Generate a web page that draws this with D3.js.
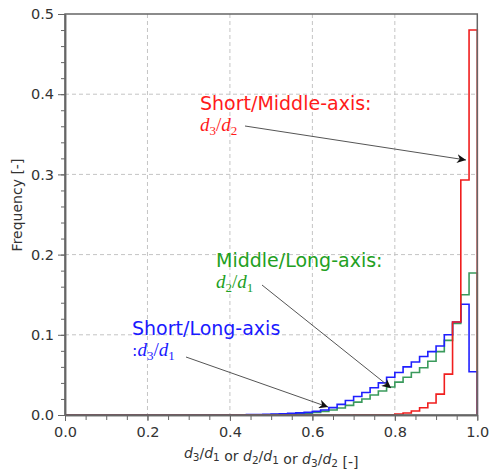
<!DOCTYPE html>
<html><head><meta charset="utf-8">
<script src="https://cdn.jsdelivr.net/npm/d3@7"></script>
<style>body{margin:0;background:#fff}</style>
</head><body>
<svg id="chart" width="489" height="470"></svg>
<script>
// ---- data ----
const binWidth = 0.02;
const binStarts = d3.range(50).map(i => +(i * binWidth).toFixed(2));
const shortLong = [ // d3/d1 (blue)
  0,0,0,0,0,0,0,0,0,0, 0,0,0,0,0,0.0002,0.0002,0.0002,0.0002,0.0002,
  0.0003,0.0004,0.0005,0.0007,0.0009,0.0012,0.0016,0.002,0.0026,0.0033,
  0.0045,0.0062,0.0092,0.0132,0.018,0.023,0.028,0.034,0.040,0.047,
  0.053,0.060,0.066,0.073,0.079,0.086,0.100,0.116,0.138,0.054];
const middleLong = [ // d2/d1 (green)
  0,0,0,0,0,0,0,0,0,0, 0,0,0,0,0,0,0,0,0,0,
  0.0002,0.0002,0.0002,0.0002,0.0002,0.0005,0.0008,0.0012,0.0017,0.0024,
  0.0033,0.0045,0.0063,0.0088,0.012,0.016,0.020,0.025,0.030,0.035,
  0.041,0.047,0.053,0.059,0.067,0.079,0.093,0.114,0.150,0.177];
const shortMiddle = [ // d3/d2 (red)
  0,0,0,0,0,0,0,0,0,0, 0,0,0,0,0,0,0,0,0,0,
  0,0,0,0,0,0,0,0,0,0, 0,0,0,0,0,0.0003,0.0003,0.0003,0.0003,0.0003,
  0.0012,0.0025,0.005,0.009,0.015,0.026,0.051,0.116,0.293,0.480];
const xTickValues = [0, 0.2, 0.4, 0.6, 0.8, 1.0];
const yTickValues = [0, 0.1, 0.2, 0.3, 0.4, 0.5];

// ---- layout ----
const L = 65, R = 477.3, T = 14, B = 415;
const svg = d3.select("#chart");
const x = d3.scaleLinear().domain([0, 1]).range([L, R]);
const y = d3.scaleLinear().domain([0, 0.5]).range([B, T]);
const font = "DejaVu Sans";

// grid
const grid = svg.append("g").attr("stroke", "#c4c4c4").attr("stroke-width", 1).attr("stroke-dasharray", "4,3");
xTickValues.slice(1, -1).forEach(v => grid.append("line").attr("x1", x(v)).attr("x2", x(v)).attr("y1", T).attr("y2", B));
yTickValues.slice(1, -1).forEach(v => grid.append("line").attr("y1", y(v)).attr("y2", y(v)).attr("x1", L).attr("x2", R));

// histograms
function stepPoints(vals) {
  const pts = [[0, 0]];
  vals.forEach((v, i) => pts.push([binStarts[i], v]));
  pts.push([1, vals[vals.length - 1]]);
  pts.push([1, 0]);
  return pts;
}
const line = d3.line().x(d => x(d[0])).y(d => y(d[1])).curve(d3.curveStepAfter);
[[middleLong, "#3a9a5c"], [shortLong, "#1f1fff"], [shortMiddle, "#f01e1e"]].forEach(([vals, c]) => {
  svg.append("path").attr("d", line(stepPoints(vals))).attr("fill", "none")
    .attr("stroke", c).attr("stroke-width", 1.6).attr("stroke-linejoin", "miter");
});

// frame
svg.append("rect").attr("x", L).attr("y", T).attr("width", R - L).attr("height", B - T)
  .attr("fill", "none").attr("stroke", "#666").attr("stroke-width", 1.5);

// axes
const xAxis = svg.append("g").attr("transform", `translate(0,${B})`)
  .call(d3.axisBottom(x).tickValues(xTickValues).tickFormat(d3.format(".1f")).tickSize(6).tickSizeOuter(0).tickPadding(6));
const xMinor = svg.append("g").attr("transform", `translate(0,${B})`)
  .call(d3.axisBottom(x).tickValues(d3.range(0, 1.0001, 0.05)).tickFormat("").tickSize(5).tickSizeOuter(0));
const yAxis = svg.append("g").attr("transform", `translate(${L},0)`)
  .call(d3.axisLeft(y).tickValues(yTickValues).tickFormat(d3.format(".1f")).tickSize(7).tickSizeOuter(0).tickPadding(4));
const yMinor = svg.append("g").attr("transform", `translate(${L},0)`)
  .call(d3.axisLeft(y).tickValues(d3.range(0, 0.5001, 0.02)).tickFormat("").tickSize(4).tickSizeOuter(0));
[xAxis, xMinor, yAxis, yMinor].forEach(g => {
  g.select(".domain").attr("stroke", "#666").attr("stroke-width", 1.5);
  g.selectAll(".tick line").attr("stroke", "#666").attr("stroke-width", 1);
  g.selectAll("text").attr("font-family", font).attr("font-size", 14.5).attr("fill", "#333");
});

// axis titles
const xt = svg.append("text").attr("x", (L + R) / 2).attr("y", 458).attr("text-anchor", "middle")
  .attr("font-family", font).attr("font-size", 14).attr("fill", "#333");
function ratio(t, a, b) {
  t.append("tspan").attr("font-style", "italic").text("d");
  t.append("tspan").attr("font-size", 10.5).attr("dy", 3).text(a);
  t.append("tspan").attr("dy", -3).text("/");
  t.append("tspan").attr("font-style", "italic").text("d");
  t.append("tspan").attr("font-size", 10.5).attr("dy", 3).text(b);
  t.append("tspan").attr("dy", -3).text("");
}
ratio(xt, "3", "1"); xt.append("tspan").text(" or ");
ratio(xt, "2", "1"); xt.append("tspan").text(" or ");
ratio(xt, "3", "2"); xt.append("tspan").text(" [-]");

svg.append("text").attr("transform", "translate(22,205) rotate(-90)").attr("text-anchor", "middle")
  .attr("font-family", font).attr("font-size", 14).attr("fill", "#333").text("Frequency [-]");

// annotations
const defs = svg.append("defs");
defs.append("marker").attr("id", "arr").attr("viewBox", "0 0 10 10").attr("refX", 10).attr("refY", 5)
  .attr("markerWidth", 9).attr("markerHeight", 9).attr("markerUnits", "userSpaceOnUse").attr("orient", "auto")
  .append("path").attr("d", "M0,0 L10,5 L0,10 L3,5 Z").attr("fill", "#111");

const annotations = [
  {label: "Short/Middle-axis:", pre: "", a: "3", b: "2", color: "#ff1a1a", tx: 200, ty: 110, sx: 245, sy: 126, ex: 466, ey: 160},
  {label: "Middle/Long-axis:", pre: "", a: "2", b: "1", color: "#22a022", tx: 216, ty: 267, sx: 262, sy: 285, ex: 391, ey: 388},
  {label: "Short/Long-axis", pre: ":", a: "3", b: "1", color: "#1a1aff", tx: 132, ty: 335, sx: 186, sy: 357, ex: 328, ey: 407}
];
annotations.forEach(an => {
  svg.append("line").attr("x1", an.sx).attr("y1", an.sy).attr("x2", an.ex).attr("y2", an.ey)
    .attr("stroke", "#555").attr("stroke-width", 1).attr("marker-end", "url(#arr)");
  svg.append("text").attr("x", an.tx).attr("y", an.ty).attr("font-family", font).attr("font-size", 19)
    .attr("fill", an.color).text(an.label);
  const m = svg.append("text").attr("x", an.tx).attr("y", an.ty + 21).attr("font-family", "Liberation Serif")
    .attr("font-size", 19).attr("fill", an.color);
  if (an.pre) m.append("tspan").attr("font-family", font).attr("font-size", 16).text(an.pre);
  m.append("tspan").attr("font-style", "italic").text("d");
  m.append("tspan").attr("font-size", 13).attr("dy", 4).text(an.a);
  m.append("tspan").attr("dy", -4).text("/");
  m.append("tspan").attr("font-style", "italic").text("d");
  m.append("tspan").attr("font-size", 13).attr("dy", 4).text(an.b);
});
</script>
</body></html>
